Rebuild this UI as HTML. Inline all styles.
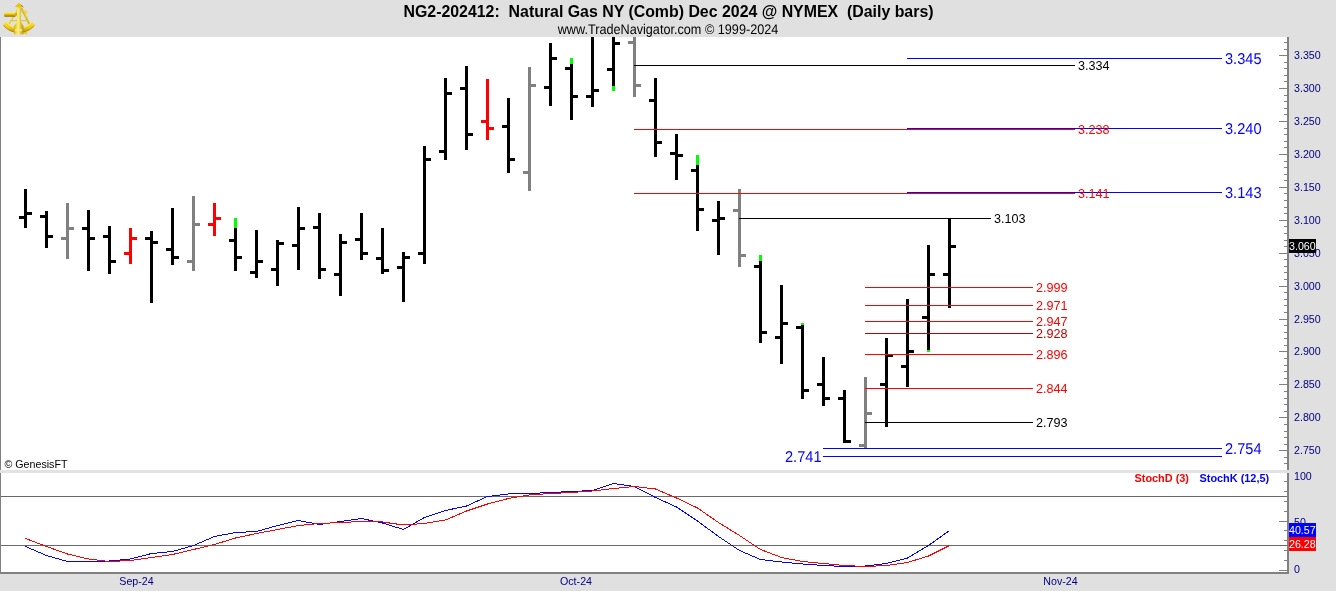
<!DOCTYPE html>
<html><head><meta charset="utf-8"><title>NG2-202412</title>
<style>
html,body{margin:0;padding:0;background:#e0e0e0;overflow:hidden}
body{width:1336px;height:591px;position:relative;font-family:"Liberation Sans",Arial,sans-serif}
svg{position:absolute;left:0;top:0;display:block}
text{font-family:"Liberation Sans",Arial,sans-serif}
.ax{font-size:10.67px;fill:#000080}
.lb{font-size:12.6px}
.big{text-rendering:geometricPrecision;font-size:15.7px;fill:#00f}
</style></head><body>
<svg width="1336" height="591" viewBox="0 0 1336 591">
<rect x="0" y="0" width="1336" height="591" fill="#e0e0e0"/>
<rect x="0" y="37" width="1289" height="537" fill="#fff"/>
<g shape-rendering="crispEdges">

<rect x="0" y="37" width="1" height="537" fill="#808080"/>
<rect x="1287" y="37" width="2" height="537" fill="#808080"/>
<rect x="0" y="572" width="1289" height="2" fill="#808080"/>
<rect x="1" y="496" width="1286" height="1" fill="#686868"/>
<rect x="1" y="545" width="1286" height="1" fill="#686868"/>
<rect x="1284" y="42" width="3" height="1" fill="#808080"/>
<rect x="1284" y="49" width="3" height="1" fill="#808080"/>
<rect x="1279" y="55" width="8" height="1" fill="#808080"/>
<rect x="1284" y="62" width="3" height="1" fill="#808080"/>
<rect x="1284" y="68" width="3" height="1" fill="#808080"/>
<rect x="1284" y="75" width="3" height="1" fill="#808080"/>
<rect x="1284" y="81" width="3" height="1" fill="#808080"/>
<rect x="1279" y="88" width="8" height="1" fill="#808080"/>
<rect x="1284" y="95" width="3" height="1" fill="#808080"/>
<rect x="1284" y="101" width="3" height="1" fill="#808080"/>
<rect x="1284" y="108" width="3" height="1" fill="#808080"/>
<rect x="1284" y="114" width="3" height="1" fill="#808080"/>
<rect x="1279" y="121" width="8" height="1" fill="#808080"/>
<rect x="1284" y="128" width="3" height="1" fill="#808080"/>
<rect x="1284" y="134" width="3" height="1" fill="#808080"/>
<rect x="1284" y="141" width="3" height="1" fill="#808080"/>
<rect x="1284" y="147" width="3" height="1" fill="#808080"/>
<rect x="1279" y="154" width="8" height="1" fill="#808080"/>
<rect x="1284" y="161" width="3" height="1" fill="#808080"/>
<rect x="1284" y="167" width="3" height="1" fill="#808080"/>
<rect x="1284" y="174" width="3" height="1" fill="#808080"/>
<rect x="1284" y="180" width="3" height="1" fill="#808080"/>
<rect x="1279" y="187" width="8" height="1" fill="#808080"/>
<rect x="1284" y="193" width="3" height="1" fill="#808080"/>
<rect x="1284" y="200" width="3" height="1" fill="#808080"/>
<rect x="1284" y="207" width="3" height="1" fill="#808080"/>
<rect x="1284" y="213" width="3" height="1" fill="#808080"/>
<rect x="1279" y="220" width="8" height="1" fill="#808080"/>
<rect x="1284" y="226" width="3" height="1" fill="#808080"/>
<rect x="1284" y="233" width="3" height="1" fill="#808080"/>
<rect x="1284" y="240" width="3" height="1" fill="#808080"/>
<rect x="1284" y="246" width="3" height="1" fill="#808080"/>
<rect x="1279" y="253" width="8" height="1" fill="#808080"/>
<rect x="1284" y="259" width="3" height="1" fill="#808080"/>
<rect x="1284" y="266" width="3" height="1" fill="#808080"/>
<rect x="1284" y="272" width="3" height="1" fill="#808080"/>
<rect x="1284" y="279" width="3" height="1" fill="#808080"/>
<rect x="1279" y="286" width="8" height="1" fill="#808080"/>
<rect x="1284" y="292" width="3" height="1" fill="#808080"/>
<rect x="1284" y="299" width="3" height="1" fill="#808080"/>
<rect x="1284" y="305" width="3" height="1" fill="#808080"/>
<rect x="1284" y="312" width="3" height="1" fill="#808080"/>
<rect x="1279" y="319" width="8" height="1" fill="#808080"/>
<rect x="1284" y="325" width="3" height="1" fill="#808080"/>
<rect x="1284" y="332" width="3" height="1" fill="#808080"/>
<rect x="1284" y="338" width="3" height="1" fill="#808080"/>
<rect x="1284" y="345" width="3" height="1" fill="#808080"/>
<rect x="1279" y="351" width="8" height="1" fill="#808080"/>
<rect x="1284" y="358" width="3" height="1" fill="#808080"/>
<rect x="1284" y="365" width="3" height="1" fill="#808080"/>
<rect x="1284" y="371" width="3" height="1" fill="#808080"/>
<rect x="1284" y="378" width="3" height="1" fill="#808080"/>
<rect x="1279" y="384" width="8" height="1" fill="#808080"/>
<rect x="1284" y="391" width="3" height="1" fill="#808080"/>
<rect x="1284" y="398" width="3" height="1" fill="#808080"/>
<rect x="1284" y="404" width="3" height="1" fill="#808080"/>
<rect x="1284" y="411" width="3" height="1" fill="#808080"/>
<rect x="1279" y="417" width="8" height="1" fill="#808080"/>
<rect x="1284" y="424" width="3" height="1" fill="#808080"/>
<rect x="1284" y="431" width="3" height="1" fill="#808080"/>
<rect x="1284" y="437" width="3" height="1" fill="#808080"/>
<rect x="1284" y="444" width="3" height="1" fill="#808080"/>
<rect x="1279" y="450" width="8" height="1" fill="#808080"/>
<rect x="1284" y="457" width="3" height="1" fill="#808080"/>
<rect x="1284" y="463" width="3" height="1" fill="#808080"/>
<rect x="1279" y="570" width="8" height="1" fill="#808080"/>
<rect x="1284" y="560" width="3" height="1" fill="#808080"/>
<rect x="1284" y="550" width="3" height="1" fill="#808080"/>
<rect x="1284" y="540" width="3" height="1" fill="#808080"/>
<rect x="1284" y="530" width="3" height="1" fill="#808080"/>
<rect x="1279" y="521" width="8" height="1" fill="#808080"/>
<rect x="1284" y="511" width="3" height="1" fill="#808080"/>
<rect x="1284" y="501" width="3" height="1" fill="#808080"/>
<rect x="1284" y="491" width="3" height="1" fill="#808080"/>
<rect x="1284" y="481" width="3" height="1" fill="#808080"/>
<rect x="0" y="470" width="1289" height="3" fill="#e2e2e2"/>
</g>
<g id="bars" shape-rendering="crispEdges">
<rect x="24" y="189" width="3" height="39" fill="#000"/>
<rect x="19" y="216" width="5" height="3" fill="#000"/>
<rect x="27" y="212" width="5" height="3" fill="#000"/>
<rect x="45" y="211" width="3" height="37" fill="#000"/>
<rect x="40" y="215" width="5" height="3" fill="#000"/>
<rect x="48" y="235" width="5" height="3" fill="#000"/>
<rect x="66" y="203" width="3" height="56" fill="#808080"/>
<rect x="61" y="237" width="5" height="3" fill="#808080"/>
<rect x="69" y="227" width="5" height="3" fill="#808080"/>
<rect x="87" y="210" width="3" height="61" fill="#000"/>
<rect x="82" y="227" width="5" height="3" fill="#000"/>
<rect x="90" y="237" width="5" height="3" fill="#000"/>
<rect x="108" y="226" width="3" height="48" fill="#000"/>
<rect x="103" y="235" width="5" height="3" fill="#000"/>
<rect x="111" y="260" width="5" height="3" fill="#000"/>
<rect x="129" y="228" width="3" height="36" fill="#f00"/>
<rect x="124" y="252" width="5" height="3" fill="#f00"/>
<rect x="132" y="237" width="5" height="3" fill="#f00"/>
<rect x="150" y="231" width="3" height="72" fill="#000"/>
<rect x="145" y="237" width="5" height="3" fill="#000"/>
<rect x="153" y="241" width="5" height="3" fill="#000"/>
<rect x="171" y="208" width="3" height="57" fill="#000"/>
<rect x="166" y="248" width="5" height="3" fill="#000"/>
<rect x="174" y="256" width="5" height="3" fill="#000"/>
<rect x="192" y="196" width="3" height="75" fill="#808080"/>
<rect x="187" y="260" width="5" height="3" fill="#808080"/>
<rect x="195" y="223" width="5" height="3" fill="#808080"/>
<rect x="213" y="203" width="3" height="33" fill="#f00"/>
<rect x="208" y="223" width="5" height="3" fill="#f00"/>
<rect x="216" y="217" width="5" height="3" fill="#f00"/>
<rect x="234" y="218" width="3" height="53" fill="#000"/>
<rect x="229" y="239" width="5" height="3" fill="#000"/>
<rect x="237" y="256" width="5" height="3" fill="#000"/>
<rect x="234" y="218" width="3" height="10" fill="#0f0"/>
<rect x="255" y="230" width="3" height="48" fill="#000"/>
<rect x="250" y="271" width="5" height="3" fill="#000"/>
<rect x="258" y="260" width="5" height="3" fill="#000"/>
<rect x="276" y="240" width="3" height="46" fill="#000"/>
<rect x="271" y="268" width="5" height="3" fill="#000"/>
<rect x="279" y="242" width="5" height="3" fill="#000"/>
<rect x="297" y="207" width="3" height="63" fill="#000"/>
<rect x="292" y="244" width="5" height="3" fill="#000"/>
<rect x="300" y="227" width="5" height="3" fill="#000"/>
<rect x="318" y="213" width="3" height="66" fill="#000"/>
<rect x="313" y="226" width="5" height="3" fill="#000"/>
<rect x="321" y="268" width="5" height="3" fill="#000"/>
<rect x="339" y="234" width="3" height="62" fill="#000"/>
<rect x="334" y="273" width="5" height="3" fill="#000"/>
<rect x="342" y="241" width="5" height="3" fill="#000"/>
<rect x="360" y="213" width="3" height="47" fill="#000"/>
<rect x="355" y="238" width="5" height="3" fill="#000"/>
<rect x="363" y="252" width="5" height="3" fill="#000"/>
<rect x="381" y="228" width="3" height="46" fill="#000"/>
<rect x="376" y="257" width="5" height="3" fill="#000"/>
<rect x="384" y="269" width="5" height="3" fill="#000"/>
<rect x="402" y="252" width="3" height="50" fill="#000"/>
<rect x="397" y="266" width="5" height="3" fill="#000"/>
<rect x="405" y="256" width="5" height="3" fill="#000"/>
<rect x="423" y="146" width="3" height="118" fill="#000"/>
<rect x="418" y="252" width="5" height="3" fill="#000"/>
<rect x="426" y="158" width="5" height="3" fill="#000"/>
<rect x="444" y="78" width="3" height="82" fill="#000"/>
<rect x="439" y="150" width="5" height="3" fill="#000"/>
<rect x="447" y="92" width="5" height="3" fill="#000"/>
<rect x="465" y="66" width="3" height="84" fill="#000"/>
<rect x="460" y="87" width="5" height="3" fill="#000"/>
<rect x="468" y="133" width="5" height="3" fill="#000"/>
<rect x="486" y="79" width="3" height="61" fill="#f00"/>
<rect x="481" y="120" width="5" height="3" fill="#f00"/>
<rect x="489" y="127" width="5" height="3" fill="#f00"/>
<rect x="507" y="98" width="3" height="75" fill="#000"/>
<rect x="502" y="125" width="5" height="3" fill="#000"/>
<rect x="510" y="158" width="5" height="3" fill="#000"/>
<rect x="528" y="67" width="3" height="124" fill="#808080"/>
<rect x="523" y="171" width="5" height="3" fill="#808080"/>
<rect x="531" y="84" width="5" height="3" fill="#808080"/>
<rect x="549" y="43" width="3" height="63" fill="#000"/>
<rect x="544" y="86" width="5" height="3" fill="#000"/>
<rect x="552" y="57" width="5" height="3" fill="#000"/>
<rect x="570" y="58" width="3" height="62" fill="#000"/>
<rect x="565" y="67" width="5" height="3" fill="#000"/>
<rect x="573" y="95" width="5" height="3" fill="#000"/>
<rect x="570" y="58" width="3" height="6" fill="#0f0"/>
<rect x="591" y="37" width="3" height="70" fill="#000"/>
<rect x="586" y="95" width="5" height="3" fill="#000"/>
<rect x="594" y="89" width="5" height="3" fill="#000"/>
<rect x="612" y="37" width="3" height="54" fill="#000"/>
<rect x="607" y="68" width="5" height="3" fill="#000"/>
<rect x="615" y="42" width="5" height="3" fill="#000"/>
<rect x="612" y="86" width="3" height="5" fill="#0f0"/>
<rect x="633" y="37" width="3" height="60" fill="#808080"/>
<rect x="628" y="41" width="5" height="3" fill="#808080"/>
<rect x="636" y="84" width="5" height="3" fill="#808080"/>
<rect x="654" y="78" width="3" height="79" fill="#000"/>
<rect x="649" y="99" width="5" height="3" fill="#000"/>
<rect x="657" y="141" width="5" height="3" fill="#000"/>
<rect x="675" y="134" width="3" height="46" fill="#000"/>
<rect x="670" y="152" width="5" height="3" fill="#000"/>
<rect x="678" y="154" width="5" height="3" fill="#000"/>
<rect x="696" y="155" width="3" height="76" fill="#000"/>
<rect x="691" y="169" width="5" height="3" fill="#000"/>
<rect x="699" y="208" width="5" height="3" fill="#000"/>
<rect x="696" y="155" width="3" height="10" fill="#0f0"/>
<rect x="717" y="201" width="3" height="54" fill="#000"/>
<rect x="712" y="219" width="5" height="3" fill="#000"/>
<rect x="720" y="217" width="5" height="3" fill="#000"/>
<rect x="738" y="189" width="3" height="78" fill="#808080"/>
<rect x="733" y="209" width="5" height="3" fill="#808080"/>
<rect x="741" y="254" width="5" height="3" fill="#808080"/>
<rect x="759" y="255" width="3" height="88" fill="#000"/>
<rect x="754" y="265" width="5" height="3" fill="#000"/>
<rect x="762" y="331" width="5" height="3" fill="#000"/>
<rect x="759" y="255" width="3" height="6" fill="#0f0"/>
<rect x="780" y="285" width="3" height="79" fill="#000"/>
<rect x="775" y="336" width="5" height="3" fill="#000"/>
<rect x="783" y="322" width="5" height="3" fill="#000"/>
<rect x="801" y="323" width="3" height="76" fill="#000"/>
<rect x="796" y="326" width="5" height="3" fill="#000"/>
<rect x="804" y="389" width="5" height="3" fill="#000"/>
<rect x="801" y="323" width="3" height="2" fill="#0f0"/>
<rect x="822" y="357" width="3" height="49" fill="#000"/>
<rect x="817" y="383" width="5" height="3" fill="#000"/>
<rect x="825" y="397" width="5" height="3" fill="#000"/>
<rect x="843" y="390" width="3" height="53" fill="#000"/>
<rect x="838" y="397" width="5" height="3" fill="#000"/>
<rect x="846" y="440" width="5" height="3" fill="#000"/>
<rect x="864" y="377" width="3" height="71" fill="#808080"/>
<rect x="859" y="444" width="5" height="3" fill="#808080"/>
<rect x="867" y="412" width="5" height="3" fill="#808080"/>
<rect x="885" y="338" width="3" height="89" fill="#000"/>
<rect x="880" y="383" width="5" height="3" fill="#000"/>
<rect x="888" y="354" width="5" height="3" fill="#000"/>
<rect x="906" y="299" width="3" height="88" fill="#000"/>
<rect x="901" y="365" width="5" height="3" fill="#000"/>
<rect x="909" y="350" width="5" height="3" fill="#000"/>
<rect x="927" y="245" width="3" height="107" fill="#000"/>
<rect x="922" y="316" width="5" height="3" fill="#000"/>
<rect x="930" y="273" width="5" height="3" fill="#000"/>
<rect x="927" y="350" width="3" height="2" fill="#0f0"/>
<rect x="948" y="218" width="3" height="90" fill="#000"/>
<rect x="943" y="273" width="5" height="3" fill="#000"/>
<rect x="951" y="245" width="5" height="3" fill="#000"/>
</g>
<g shape-rendering="crispEdges">
<rect x="634" y="65" width="441" height="1" fill="#000"/>
<rect x="634" y="129" width="441" height="1" fill="#f00"/>
<rect x="634" y="193" width="441" height="1" fill="#f00"/>
<rect x="739" y="218" width="252" height="1" fill="#000"/>
<rect x="865" y="287" width="168" height="1" fill="#f00"/>
<rect x="865" y="305" width="168" height="1" fill="#f00"/>
<rect x="865" y="321" width="168" height="1" fill="#f00"/>
<rect x="865" y="333" width="168" height="1" fill="#c00000"/>
<rect x="865" y="354" width="168" height="1" fill="#f00"/>
<rect x="865" y="388" width="168" height="1" fill="#f00"/>
<rect x="865" y="422" width="168" height="1" fill="#000"/>
<rect x="907" y="58" width="315" height="1" fill="#00f"/>
<rect x="907" y="128" width="315" height="1" fill="#00f"/>
<rect x="907" y="192" width="315" height="1" fill="#00f"/>
<rect x="823" y="448" width="399" height="1" fill="#00f"/>
<rect x="823" y="456" width="399" height="1" fill="#00f"/>
</g>
<polyline points="25.5,546.5 46.5,555.5 67.5,561.5 88.5,561.5 109.5,561.0 130.5,559.0 151.5,553.5 172.5,551.5 193.5,545.5 214.5,536.5 235.5,532.5 256.5,531.5 277.5,525.5 298.5,520.5 319.5,524.5 340.5,521.5 361.5,518.5 382.5,523.0 403.5,529.5 424.5,517.5 445.5,510.5 466.5,506.0 487.5,496.5 508.5,494.0 529.5,493.5 550.5,492.5 571.5,491.5 592.5,490.5 613.5,483.5 634.5,486.5 655.5,497.5 676.5,507.0 697.5,521.0 718.5,536.5 739.5,550.5 760.5,559.5 781.5,562.0 802.5,564.0 823.5,565.5 844.5,566.5 865.5,566.0 886.5,563.5 907.5,558.0 928.5,545.5 949.5,530.5" fill="none" stroke="#00f" stroke-width="1" shape-rendering="crispEdges"/>
<polyline points="25.5,538.5 46.5,546.5 67.5,554.0 88.5,559.0 109.5,561.5 130.5,560.5 151.5,557.5 172.5,554.5 193.5,549.5 214.5,544.5 235.5,538.0 256.5,533.5 277.5,529.5 298.5,525.5 319.5,523.5 340.5,522.5 361.5,521.5 382.5,522.0 403.5,525.0 424.5,523.5 445.5,520.0 466.5,511.0 487.5,504.0 508.5,498.5 529.5,495.0 550.5,493.5 571.5,492.5 592.5,491.0 613.5,488.5 634.5,486.5 655.5,489.0 676.5,498.0 697.5,508.0 718.5,522.5 739.5,535.5 760.5,549.5 781.5,557.5 802.5,561.5 823.5,563.5 844.5,565.5 865.5,566.5 886.5,565.5 907.5,562.5 928.5,556.0 949.5,545.5" fill="none" stroke="#f00" stroke-width="1" shape-rendering="crispEdges"/>
<g shape-rendering="crispEdges">
<rect x="1289" y="239" width="27" height="14" fill="#000"/>
<rect x="1289" y="523" width="27" height="14" fill="#00f"/>
<rect x="1289" y="537" width="27" height="14" fill="#f00"/>
</g>
<text x="668.5" y="16.5" text-anchor="middle" font-size="15.9" font-weight="bold" fill="#000" xml:space="preserve" style="white-space:pre">NG2-202412:  Natural Gas NY (Comb) Dec 2024 @ NYMEX  (Daily bars)</text>
<text x="668" y="34" text-anchor="middle" font-size="14" style="text-rendering:geometricPrecision" textLength="220.6" lengthAdjust="spacingAndGlyphs" fill="#000">www.TradeNavigator.com © 1999-2024</text>
<text x="4.5" y="468" font-size="10.67" fill="#000">© GenesisFT</text>
<text class="ax" x="1294" y="59">3.350</text>
<text class="ax" x="1294" y="92">3.300</text>
<text class="ax" x="1294" y="125">3.250</text>
<text class="ax" x="1294" y="158">3.200</text>
<text class="ax" x="1294" y="191">3.150</text>
<text class="ax" x="1294" y="224">3.100</text>
<text class="ax" x="1294" y="257">3.050</text>
<text class="ax" x="1294" y="290">3.000</text>
<text class="ax" x="1294" y="323">2.950</text>
<text class="ax" x="1294" y="355">2.900</text>
<text class="ax" x="1294" y="388">2.850</text>
<text class="ax" x="1294" y="421">2.800</text>
<text class="ax" x="1294" y="454">2.750</text>
<text class="ax" x="1294" y="480">100</text>
<text class="ax" x="1294" y="525.5">50</text>
<text class="ax" x="1294" y="573">0</text>
<g shape-rendering="crispEdges">
<rect x="1289" y="239" width="27" height="14" fill="#000"/>
<rect x="1289" y="523" width="27" height="14" fill="#00f"/>
<rect x="1289" y="537" width="27" height="14" fill="#f00"/>
</g>
<text x="1289" y="250" font-size="10.67" fill="#fff">3.060</text>
<text x="1289" y="534" font-size="10.67" fill="#fff">40.57</text>
<text x="1289" y="548" font-size="10.67" fill="#fff">26.28</text>
<text class="ax" x="136.5" y="585" text-anchor="middle">Sep-24</text>
<text class="ax" x="576" y="585" text-anchor="middle">Oct-24</text>
<text class="ax" x="1060.5" y="585" text-anchor="middle">Nov-24</text>
<text x="1134.5" y="482" font-size="10.9" font-weight="bold" fill="#f00">StochD (3)</text>
<text x="1199.5" y="482" font-size="10.9" font-weight="bold" fill="#00f">StochK (12,5)</text>
<text class="lb" x="1078" y="70.2" fill="#000">3.334</text>
<text class="lb" x="1078" y="134.2" fill="#f00">3.238</text>
<text class="lb" x="1078" y="198.2" fill="#f00">3.141</text>
<text class="lb" x="994" y="223.2" fill="#000">3.103</text>
<text class="lb" x="1036" y="292.2" fill="#f00">2.999</text>
<text class="lb" x="1036" y="310.2" fill="#f00">2.971</text>
<text class="lb" x="1036" y="326.2" fill="#f00">2.947</text>
<text class="lb" x="1036" y="338.2" fill="#c00000">2.928</text>
<text class="lb" x="1036" y="359.2" fill="#f00">2.896</text>
<text class="lb" x="1036" y="393.2" fill="#f00">2.844</text>
<text class="lb" x="1036" y="427.2" fill="#000">2.793</text>
<text class="big" transform="translate(1225,63.8) scale(0.93,1)" text-anchor="start">3.345</text>
<text class="big" transform="translate(1225,133.8) scale(0.93,1)" text-anchor="start">3.240</text>
<text class="big" transform="translate(1225,197.8) scale(0.93,1)" text-anchor="start">3.143</text>
<text class="big" transform="translate(1225,453.8) scale(0.93,1)" text-anchor="start">2.754</text>
<text class="big" transform="translate(821.5,461.8) scale(0.93,1)" text-anchor="end">2.741</text>
<defs>
<linearGradient id="gv" x1="0" y1="0" x2="0" y2="1"><stop offset="0" stop-color="#fff27a"/><stop offset="0.45" stop-color="#ecc913"/><stop offset="1" stop-color="#8a6a00"/></linearGradient>
<linearGradient id="gh" x1="0" y1="0" x2="1" y2="0"><stop offset="0" stop-color="#d9b40c"/><stop offset="0.45" stop-color="#fff27a"/><stop offset="1" stop-color="#b89200"/></linearGradient>
<linearGradient id="ga" x1="0" y1="0" x2="0" y2="1"><stop offset="0" stop-color="#fbe43c"/><stop offset="0.6" stop-color="#e9c510"/><stop offset="1" stop-color="#a68400"/></linearGradient>
</defs>
<g id="logo">
<path d="M18.3,8.5 L9.2,24.2" stroke="#e8cc30" stroke-width="1.3" fill="none"/>
<path d="M21.2,8 L29.3,24" stroke="#d9b818" stroke-width="1.8" fill="none"/>
<path d="M23.5,11.5 l2.2,-0.8 l1,2.2 l-1.6,1.3 l1.4,2.3 l-1.3,0.8" stroke="#f1d529" stroke-width="1.3" fill="none"/>
<path d="M10.5,20.6 L27.5,20.6" stroke="#e9cb25" stroke-width="1.2" fill="none"/>
<path d="M2.8,25 L6.6,21.6 A16.2,16.2 0 0 0 31.6,21.6 L35.2,25 A20.8,20.8 0 0 1 2.8,25 Z" fill="url(#ga)"/>
<path d="M3.6,25.6 A20.2,20.2 0 0 0 34.4,25.6" stroke="#9a7a00" stroke-width="0.9" fill="none" opacity="0.7"/><path d="M6.6,22.4 A16.4,16.4 0 0 0 31.6,22.4" stroke="#fff9b0" stroke-width="0.9" fill="none" opacity="0.8"/>
<rect x="4.1" y="12.1" width="11.6" height="4.6" rx="0.8" fill="url(#gv)"/>
<rect x="15.2" y="13" width="2.2" height="2.6" fill="#caa70c"/>
<path d="M19,2.8 L23.2,6.6 L21.1,7.6 L21.1,22.3 L23.5,26 L23.5,34.2 L13.9,34.2 L13.9,26 L17,22.3 L17,7.6 L15,6.6 Z" fill="url(#gh)"/>
<path d="M15,6.6 L19,2.8 L23.2,6.6 L19,7.8 Z" fill="#e6c416"/>
<path d="M21.1,5 L23.4,7.4" stroke="#4a3a00" stroke-width="0.8" opacity="0.6"/>
<rect x="15.2" y="29" width="7" height="2.2" fill="#f6e88c" opacity="0.8"/>
<rect x="23.5" y="32.2" width="3.2" height="1.6" fill="#e2bf12"/>
<rect x="26.2" y="31.4" width="1.1" height="3.4" fill="#efd22a"/>
</g>

</svg></body></html>
